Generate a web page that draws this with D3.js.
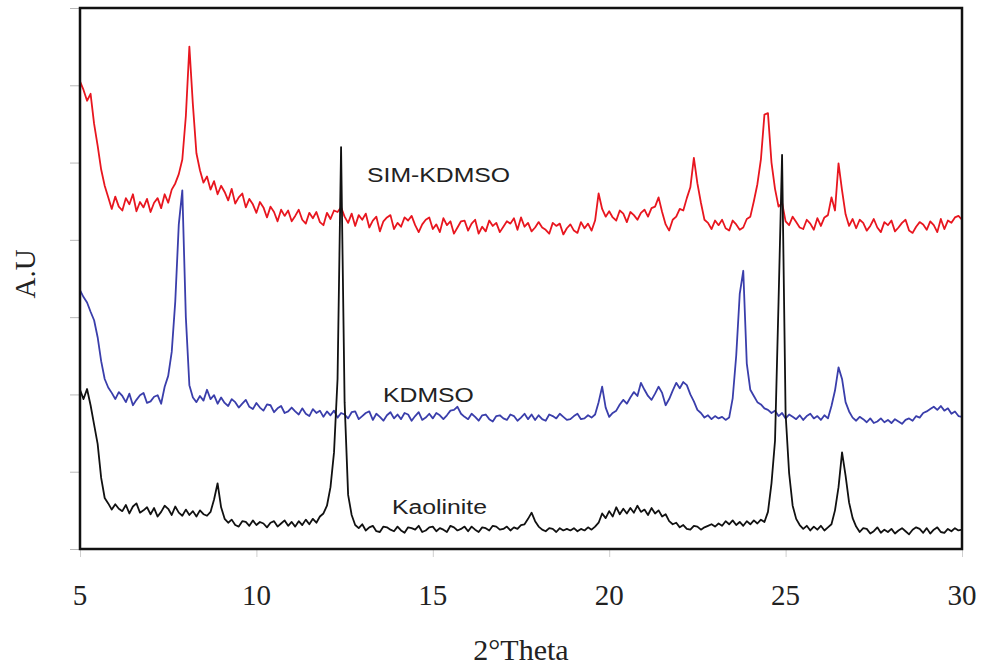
<!DOCTYPE html>
<html>
<head>
<meta charset="utf-8">
<script src="https://cdn.jsdelivr.net/npm/d3@7"></script>
<style>
    body { margin: 0; background: white; }
    svg { display: block; }
</style>
</head>
<body>
<svg id="xrd-svg" width="982" height="668"></svg>
<script>
// scan grid: 2theta from 5 to 30 in 0.1 degree steps
const THETA_START = 5;
const THETA_STEP = 0.1;

const xTicks = [5, 10, 15, 20, 25, 30];
const yTicks = [0, 10, 20, 30, 40, 50, 60, 70];

const seriesNames = ["SIM-KDMSO", "KDMSO", "Kaolinite"];

// intensities (a.u.), one row per degree
const simKdmso = [
    60.5, 59.4, 58.0, 58.9, 55.0, 52.2, 49.1, 47.0, 45.5, 44.0,
    45.6, 44.3, 43.8, 45.4, 44.6, 45.9, 43.7, 44.9, 44.2, 45.3,
    43.6, 44.8, 45.4, 44.1, 45.9, 44.8, 46.5, 47.3, 48.5, 50.4,
    56.0, 65.0, 57.5, 51.2, 49.0, 47.4, 48.2, 46.5, 47.6, 45.9,
    47.0, 46.2, 45.1, 46.6, 44.7, 45.5, 46.0, 44.2, 45.3, 44.6,
    43.5, 44.9, 44.2, 42.9, 44.3, 43.6, 42.4, 43.9, 43.1, 43.8,
    42.4, 43.1, 43.9, 42.6, 42.1, 43.5, 42.8, 43.6, 42.3, 41.9,
    43.5, 42.7, 43.8, 43.6, 44.2, 43.0, 42.2, 43.4, 41.8, 43.2,
    42.6, 43.4, 41.6, 42.5, 43.0, 41.1, 42.4, 42.9, 43.2, 41.4,
    42.2, 41.7, 42.9, 42.5, 43.1, 41.9, 41.0, 42.0, 42.6, 42.9,
    41.4, 42.0, 41.0, 42.8, 41.9, 42.4, 40.8, 41.6, 42.4, 42.5,
    41.2, 42.1, 42.6, 40.8, 41.7, 41.1, 42.5, 41.8, 42.2, 41.0,
    41.7, 42.4, 42.1, 42.8, 41.3, 42.9, 41.7, 42.2, 41.1, 41.6,
    42.3, 41.6, 41.3, 40.8, 42.2, 41.8, 42.1, 40.7, 41.5, 42.0,
    41.2, 40.9, 42.3, 41.5, 42.1, 41.2, 42.5, 46.0, 44.0, 43.0,
    43.7, 42.9, 42.5, 43.8, 43.4, 42.3, 43.6, 43.2, 42.6, 43.5,
    43.9, 43.0, 44.1, 44.3, 45.5, 43.6, 42.0, 41.2, 42.6, 43.0,
    44.0, 43.8, 45.4, 46.8, 50.6, 47.3, 44.8, 42.6, 42.2, 41.4,
    42.5, 41.9, 42.6, 41.5, 41.2, 42.5, 42.0, 41.3, 41.6, 42.7,
    43.0, 45.0, 47.2, 50.4, 56.2, 56.4, 50.0, 46.6, 44.3, 44.8,
    42.4, 41.9, 43.0, 42.3, 41.6, 41.4, 42.6, 42.1, 41.3, 42.8,
    41.8, 42.9, 43.2, 45.5, 43.8, 49.9, 46.4, 43.3, 41.8, 42.7,
    41.5, 42.6, 42.2, 41.2, 41.8, 42.7, 41.6, 41.0, 42.3, 41.9,
    42.5, 41.1, 41.6, 42.2, 42.6, 41.2, 40.9, 41.7, 42.3, 42.0,
    41.3, 42.4, 41.9, 41.0, 42.7, 41.4, 42.5, 42.2, 42.9, 43.1,
    42.6
];

const kdmso = [
    33.5, 32.6, 31.9, 30.7, 29.6, 27.4, 24.3, 22.0, 20.9, 20.2,
    19.4, 20.3, 19.8, 19.0, 20.1, 18.6, 19.3, 19.9, 20.2, 18.9,
    19.1, 19.7, 19.9, 18.8, 21.0, 22.4, 25.5, 32.0, 42.0, 46.4,
    30.0, 21.2, 19.6, 19.0, 19.8, 19.2, 20.6, 19.4, 19.9, 18.8,
    19.6, 18.9, 18.5, 19.4, 19.0, 18.3, 18.8, 19.3, 18.4, 18.1,
    18.9, 18.3, 17.9, 18.7, 18.6, 17.7, 18.2, 18.5, 17.6, 17.8,
    18.3, 17.8, 17.4, 18.2, 17.5, 17.2, 18.1, 17.6, 17.9, 17.1,
    17.8, 17.3, 17.9, 17.0, 17.6, 17.4, 16.9, 17.7, 17.8, 16.8,
    17.2, 17.6, 17.8, 16.7, 17.5, 17.1, 16.6, 17.3, 17.7, 16.9,
    17.4, 16.8, 17.6, 17.4, 16.6, 17.2, 17.7, 16.7, 17.0, 17.5,
    16.9, 17.6, 17.3, 16.8, 17.3, 17.9, 18.0, 18.4, 17.5, 17.1,
    16.8, 17.5, 17.1, 16.6, 17.3, 17.4, 16.8, 16.5, 17.2, 17.3,
    16.9, 16.7, 17.4, 17.2, 16.6, 17.0, 17.5, 16.8, 17.4, 16.7,
    17.3, 16.8, 16.6, 17.4, 17.2, 16.9, 17.5, 17.1, 16.7, 16.8,
    17.2, 17.5, 16.8, 16.9, 17.3, 17.0, 17.4, 19.0, 21.0, 18.3,
    17.1, 17.6, 17.9, 18.7, 19.3, 18.8, 19.6, 20.3, 19.8, 21.5,
    20.6, 19.8, 19.3, 20.1, 21.0, 20.2, 18.6, 19.4, 20.5, 21.5,
    20.8, 21.6, 21.2, 20.0, 19.1, 18.0, 17.6, 17.0, 17.3, 16.8,
    17.2, 16.9, 17.1, 16.7, 17.0, 19.5, 25.0, 33.0, 36.0, 24.0,
    20.6, 19.8, 19.0, 18.7, 18.2, 18.0, 17.6, 17.9, 17.2, 17.6,
    16.9, 17.4, 17.1, 16.8, 17.3, 16.7, 17.2, 17.5, 16.9, 17.2,
    16.7, 17.3, 16.9, 18.5, 20.5, 23.5, 22.0, 19.0, 17.8, 17.0,
    16.6, 17.1, 16.8, 16.4, 16.9, 16.3, 16.5, 16.9, 16.4, 16.7,
    16.3, 16.8, 16.5, 16.2, 16.7, 16.9, 16.6, 17.2, 17.0, 17.6,
    17.8, 18.1, 18.4, 18.0, 18.5, 17.9, 18.2, 17.5, 17.8, 17.2,
    17.1
];

const kaolinite = [
    20.6, 19.4, 20.7, 18.6, 16.1, 13.6, 9.2, 6.6, 5.9, 5.1,
    5.8, 5.2, 4.9, 5.7, 4.6, 5.5, 5.9, 4.7, 5.0, 5.4,
    4.5, 5.3, 4.2, 4.8, 5.6, 5.2, 4.4, 5.5, 4.7, 4.3,
    5.1, 4.4, 4.9, 4.2, 5.0, 4.5, 4.3, 4.8, 6.4, 8.5,
    5.4, 3.9, 3.4, 3.8, 3.1, 2.9, 3.6, 3.5, 3.0, 3.7,
    3.1, 3.5, 3.3, 2.8, 3.4, 3.6, 2.9, 3.3, 3.7, 3.0,
    3.5, 2.9, 3.6, 3.1, 3.8, 3.2, 3.9, 3.4, 4.2, 4.6,
    5.6, 8.0, 12.5, 22.0, 52.0, 19.0, 7.0, 4.4, 3.1, 2.7,
    3.2, 2.4, 2.8, 3.0, 2.3, 2.2, 2.9, 2.8, 2.5, 2.3,
    2.9, 2.4, 2.1, 2.8, 2.7, 2.5, 3.0, 2.2, 2.4, 2.8,
    2.9, 2.3, 2.7, 2.5, 2.2, 3.0, 2.8, 2.4, 2.6, 2.9,
    2.3, 2.9, 2.5, 2.2, 2.8, 2.7, 2.4, 3.0, 2.9, 2.5,
    2.6, 2.9, 2.4, 2.8, 2.6, 3.1, 3.2, 3.9, 4.7, 3.6,
    2.9, 2.5, 2.3, 2.7, 2.6, 2.2, 2.7, 2.4, 2.6, 2.4,
    2.7, 2.3, 2.6, 2.4, 2.8, 2.5, 2.9, 3.4, 4.6, 4.0,
    4.9, 4.2, 5.4, 4.5, 5.2, 4.6, 5.3, 4.7, 5.6, 4.8,
    5.1, 4.4, 5.3, 4.6, 5.0, 4.2, 4.5, 3.6, 3.2, 3.4,
    2.8, 3.1, 2.6, 2.5, 3.0, 2.9, 2.5, 2.8, 3.0, 3.2,
    2.9, 3.3, 3.0, 3.6, 3.2, 3.7, 3.1, 3.5, 3.0, 3.6,
    3.2, 3.7, 3.3, 3.8, 3.5, 4.8, 8.5, 14.0, 32.0, 51.0,
    17.5, 9.8, 5.6, 3.9, 3.1, 2.6, 3.0, 2.4, 2.9, 2.5,
    3.0, 2.4, 2.8, 3.2, 5.0, 8.0, 12.5, 9.5, 6.0, 4.0,
    2.9, 2.2, 2.7, 2.6, 2.0, 2.3, 2.8, 2.1, 2.5, 2.2,
    2.6, 2.0, 2.4, 2.7, 2.3, 1.9, 2.5, 2.8, 2.6, 2.1,
    2.7, 2.0, 2.5, 2.8, 2.2, 2.1, 2.6, 2.3, 2.7, 2.4,
    2.5
];

const seriesColors = ["#e8161f", "#3a3eab", "#111111"];

const MARGIN = {left: 80, right: 20, top: 8, bottom: 119};
const SVG_WIDTH = 982;
const SVG_HEIGHT = 668;

let svg = d3.select("#xrd-svg");

let x = d3.scaleLinear()
    .domain([5, 30])
    .range([MARGIN.left, SVG_WIDTH - MARGIN.right]);

let y = d3.scaleLinear()
    .domain([0, 70])
    .range([SVG_HEIGHT - MARGIN.bottom, MARGIN.top]);

//faint outer ticks like the original plot
let xAxis = svg.append("g")
    .attr("transform", "translate(0," + y(0) + ")")
    .call(d3.axisBottom(x).tickValues(xTicks).tickSize(8).tickFormat(""));
xAxis.select(".domain").remove();
xAxis.selectAll("line").attr("stroke", "#cfcfcf");

let yAxis = svg.append("g")
    .attr("transform", "translate(" + x(5) + ",0)")
    .call(d3.axisLeft(y).tickValues(yTicks).tickSize(10).tickFormat(""));
yAxis.select(".domain").remove();
yAxis.selectAll("line").attr("stroke", "#b8b8b8");

// tick labels
svg.append("g")
    .selectAll("text")
    .data(xTicks)
    .enter()
    .append("text")
        .attr("x", d => x(d))
        .attr("y", 605)
        .attr("text-anchor", "middle")
        .style("font-family", "'Liberation Serif', 'Times New Roman', serif")
        .style("font-size", "29px")
        .style("fill", "#222")
        .text(d => d);

svg.append("clipPath")
    .attr("id", "plot-clip")
    .append("rect")
        .attr("x", x(5))
        .attr("y", y(70))
        .attr("width", x(30) - x(5))
        .attr("height", y(0) - y(70));

let line = d3.line()
    .x(d => x(d[0]))
    .y(d => y(d[1]));

let toPoints = values => values.map((v, i) => [THETA_START + i * THETA_STEP, v]);

let series = [simKdmso, kdmso, kaolinite];

svg.append("g")
    .attr("clip-path", "url(#plot-clip)")
    .selectAll("path")
    .data(series)
    .enter()
    .append("path")
        .attr("d", d => line(toPoints(d)))
        .attr("fill", "none")
        .attr("stroke", (d, i) => seriesColors[i])
        .attr("stroke-width", 1.8)
        .attr("stroke-linejoin", "round");

// plot frame
svg.append("rect")
    .attr("x", x(5))
    .attr("y", y(70))
    .attr("width", x(30) - x(5))
    .attr("height", y(0) - y(70))
    .attr("fill", "none")
    .attr("stroke", "#111")
    .attr("stroke-width", 2.5);

// curve labels, set inside the plot
const labelPos = [[367, 182], [383, 402], [392, 514]];
svg.append("g")
    .selectAll("text")
    .data(seriesNames)
    .enter()
    .append("text")
        .attr("transform", (d, i) => "translate(" + labelPos[i][0] + "," + labelPos[i][1] + ") scale(1.18,1)")
        .style("font-family", "'Liberation Sans', Arial, sans-serif")
        .style("font-size", "21px")
        .style("fill", "#222")
        .text(d => d);

// axis titles
svg.append("text")
    .attr("x", (x(5) + x(30)) / 2)
    .attr("y", 660)
    .attr("text-anchor", "middle")
    .style("font-family", "'Liberation Serif', 'Times New Roman', serif")
    .style("font-size", "30px")
    .style("fill", "#222")
    .text("2\u00B0Theta");

svg.append("text")
    .attr("transform", "translate(35," + 274 + ") rotate(-90)")
    .attr("text-anchor", "middle")
    .style("font-family", "'Liberation Serif', 'Times New Roman', serif")
    .style("font-size", "29px")
    .style("fill", "#222")
    .text("A.U");
</script>
</body>
</html>
